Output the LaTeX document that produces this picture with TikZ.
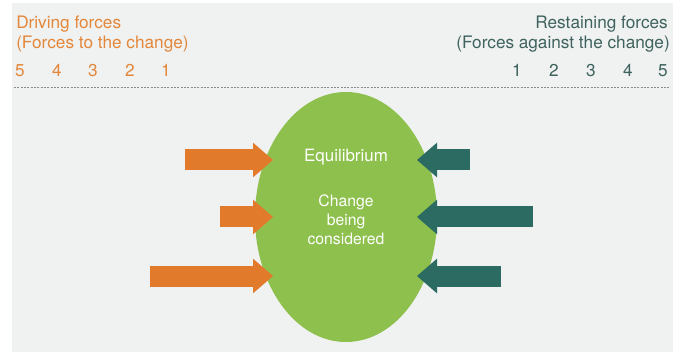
\documentclass[tikz,border=0pt]{standalone}
\usepackage{fontspec}
\setmainfont{TeX Gyre Heros}
\usetikzlibrary{arrows.meta,positioning,shapes.geometric}
\definecolor{drivecol}{HTML}{E27A2B}
\definecolor{drvtext}{HTML}{E3873A}
\definecolor{holdcol}{HTML}{2C6B61}
\definecolor{holdtext}{HTML}{3E635E}
\definecolor{eqcol}{HTML}{8DC04C}
\definecolor{bgcol}{HTML}{F0F1F1}
\tikzset{
  drive/.style={draw=drivecol,line width=15.75pt,-{Triangle[length=15pt,width=26pt,line width=0pt]}},
  hold/.style={draw=holdcol,line width=15.75pt,-{Triangle[length=15pt,width=26pt,line width=0pt]}},
  drvlabel/.style={text=drvtext,inner sep=0pt,font=\fontsize{12.9}{15}\selectfont},
  holdlabel/.style={text=holdtext,inner sep=0pt,font=\fontsize{12.9}{15}\selectfont},
  inlabel/.style={text=white,inner sep=0pt,align=center},
  scaleline/.style={draw=black!45,line width=0.7pt,dash pattern=on 1.5pt off 1pt},
}

\begin{document}
\begin{tikzpicture}[x=0.75pt,y=-0.75pt]
    \useasboundingbox (0,0) rectangle (673,352);
    \fill[bgcol] (12,3) rectangle (673,352);
    % headings
    \node[drvlabel,anchor=base west] (drv) at (16,29) {Driving forces};
    \node[drvlabel,anchor=base west] (drvsub) at (16,49) {(Forces to the change)};
    \node[holdlabel,anchor=base east] (hold) at (668,29) {Restaining forces};
    \node[holdlabel,anchor=base east] (holdsub) at (670,49) {(Forces against the change)};
    % scale
    \node[drvlabel,anchor=base] (d5) at (20,77) {5};
    \node[drvlabel,anchor=base] (d4) at (57,77) {4};
    \node[drvlabel,anchor=base] (d3) at (93,77) {3};
    \node[drvlabel,anchor=base] (d2) at (130,77) {2};
    \node[drvlabel,anchor=base] (d1) at (166,77) {1};
    \node[holdlabel,anchor=base] (r1) at (517,77) {1};
    \node[holdlabel,anchor=base] (r2) at (554,77) {2};
    \node[holdlabel,anchor=base] (r3) at (591,77) {3};
    \node[holdlabel,anchor=base] (r4) at (628,77) {4};
    \node[holdlabel,anchor=base] (r5) at (663,77) {5};
    \draw[scaleline] (14,87) -- (669,87);
    % the change
    \node[ellipse,fill=eqcol,minimum width=136.5pt,minimum height=187.5pt,inner sep=0pt] (change) at (346,217) {};
    \node[inlabel,font=\fontsize{12.7}{15}\selectfont] (eqm) at (346,157) {Equilibrium};
    \node[inlabel,font=\fontsize{11.8}{14.2}\selectfont] (cbc) at (346,220) {Change\\being\\considered};
    % forces
    \coordinate (dt1) at (185,160); \coordinate (dh1) at (273,160);
    \coordinate (dt2) at (220,217); \coordinate (dh2) at (273,217);
    \coordinate (dt3) at (150,276); \coordinate (dh3) at (273,276);
    \coordinate (rt1) at (470,160); \coordinate (rh1) at (417,160);
    \coordinate (rt2) at (533,217); \coordinate (rh2) at (417,217);
    \coordinate (rt3) at (501,276); \coordinate (rh3) at (417,276);
    \draw[drive] (dt1) -- (dh1);
    \draw[drive] (dt2) -- (dh2);
    \draw[drive] (dt3) -- (dh3);
    \draw[hold] (rt1) -- (rh1);
    \draw[hold] (rt2) -- (rh2);
    \draw[hold] (rt3) -- (rh3);
\end{tikzpicture}
\end{document}
